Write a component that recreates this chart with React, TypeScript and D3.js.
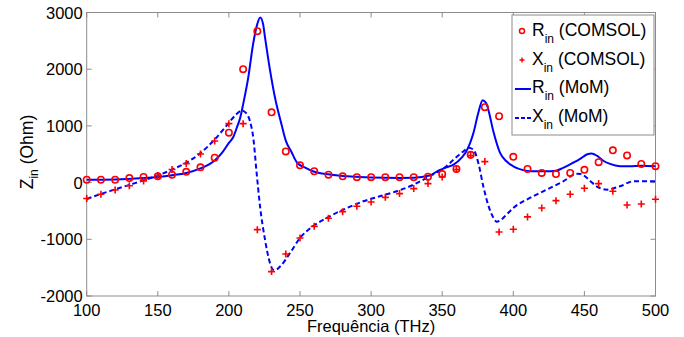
import React from "react";
import * as d3 from "d3";

const freqComsol = [100,110,120,130,140,150,160,170,180,190,200,210,220,230,240,250,260,270,280,290,300,310,320,330,340,350,360,370,380,390,400,410,420,430,440,450,460,470,480,490,500];
const rComsol = [50,50,50,80,100,110,140,190,270,440,880,2000,2670,1240,550,305,200,140,110,95,95,95,95,95,105,150,240,490,1330,1170,455,240,170,150,170,225,360,570,480,330,290];
const xComsol = [-280,-205,-130,-55,30,125,230,335,505,735,1040,1040,-830,-1570,-1260,-977,-772,-630,-512,-418,-341,-260,-194,-106,-18,100,230,477,370,-870,-822,-605,-447,-318,-206,-100,-18,-153,-395,-377,-294];

const rMoM: [number, number][] = [[100,50],[120,55],[140,80],[150,100],[160,130],[170,170],[180,250],[190,390],[195,520],[200,700],[203,800],[206,1000],[208,1150],[210,1380],[213.6,1850],[217,2440],[220,2800],[222,2910],[224,2800],[225.4,2560],[229,1970],[232.4,1500],[237,1025],[240,740],[244,540],[248,350],[254,260],[259,200],[271,141],[283,111],[300,88],[320,83],[330,85],[341,124],[348,220],[353,270],[358,318],[364,450],[367,553],[372,878],[375.4,1231],[378.5,1454],[381,1400],[382.4,1290],[386,900],[390.7,525],[395,380],[400,288],[407,220],[412,200],[423,200],[430,210],[435,260],[442,350],[447,420],[452,500],[455,515],[459,470],[463,390],[468,330],[475,290],[482,288],[490,298],[500,288]];
const xMoM: [number, number][] = [[100,-290],[110,-200],[120,-120],[130,-40],[140,40],[150,125],[160,230],[170,350],[180,520],[190,760],[200,1055],[205,1200],[209,1272],[212,1230],[214.8,1083],[217.2,780],[219.5,171],[221.9,-419],[225.4,-1007],[228.9,-1420],[231.2,-1537],[233.5,-1530],[236,-1479],[243,-1242],[250,-977],[259,-772],[271,-595],[283,-447],[294.5,-330],[306,-242],[318,-153],[330,-35],[341,111],[353,288],[358,406],[365,553],[368.4,613],[371.9,583],[375.4,348],[378.9,-65],[382.4,-400],[386,-620],[388.3,-690],[391,-665],[395,-570],[400,-447],[411.7,-270],[423.4,-124],[435.2,23],[444.5,154],[448,150],[450.4,111],[454,30],[458.6,-65],[465.7,-124],[475,-65],[484.4,23],[490,25],[500,23]];

const xTicks = [100,150,200,250,300,350,400,450,500];
const yTicks = [-2000,-1000,0,1000,2000,3000];

const W = 684, H = 337;
const L = 86.7, R = 655.5, T = 12.5, B = 296;
const AX = "#8c8c8c";
const RED = "#ff0000";
const BLUE = "#0000ff";
const FONT = "Liberation Sans, Arial, Helvetica, sans-serif";

export default function App() {
  const x = d3.scaleLinear().domain([100, 500]).range([L, R]);
  const y = d3.scaleLinear().domain([-2000, 3000]).range([B, T]);
  const line = d3.line<[number, number]>().x(d => x(d[0])).y(d => y(d[1])).curve(d3.curveMonotoneX);
  const tl = 5;
  const plus = (cx: number, cy: number, k: string) => (
    <path key={k} d={`M${cx-3.5},${cy}H${cx+3.5}M${cx},${cy-3.5}V${cy+3.5}`} stroke={RED} strokeWidth={1.6} fill="none" />
  );
  const legRows = [
    { sym: "R", label: " (COMSOL)", kind: "o", yb: 35.5 },
    { sym: "X", label: " (COMSOL)", kind: "+", yb: 64.5 },
    { sym: "R", label: " (MoM)", kind: "-", yb: 93 },
    { sym: "X", label: " (MoM)", kind: "--", yb: 122 },
  ];
  return (
    <svg width={W} height={H} style={{ position: "absolute", left: 0, top: 0, background: "#fff" }} fontFamily={FONT}>
      <rect x={0} y={0} width={W} height={H} fill="#fff" />
      <rect x={L} y={T} width={R - L} height={B - T} fill="none" stroke={AX} strokeWidth={1} />
      {xTicks.map(t => (
        <g key={"xt" + t}>
          <line x1={x(t)} x2={x(t)} y1={B} y2={B - tl} stroke={AX} />
          <line x1={x(t)} x2={x(t)} y1={T} y2={T + tl} stroke={AX} />
          <text x={x(t)} y={B + 20} textAnchor="middle" fontSize={16.5} fill="#000">{t}</text>
        </g>
      ))}
      {yTicks.map(t => (
        <g key={"yt" + t}>
          <line x1={L} x2={L + tl} y1={y(t)} y2={y(t)} stroke={AX} />
          <line x1={R} x2={R - tl} y1={y(t)} y2={y(t)} stroke={AX} />
          <text x={L - 4} y={y(t) + 6} textAnchor="end" fontSize={16.5} fill="#000">{t}</text>
        </g>
      ))}
      <text x={(L + R) / 2} y={332} textAnchor="middle" fontSize={16.5} fill="#000">Frequência (THz)</text>
      <text transform={`translate(33,152) rotate(-90)`} textAnchor="middle" fontSize={17.5} fill="#000">
        Z<tspan fontSize={12} dy={5}>in</tspan><tspan dy={-5}> (Ohm)</tspan>
      </text>
      <path d={line(rMoM) || ""} fill="none" stroke={BLUE} strokeWidth={2} />
      <path d={line(xMoM) || ""} fill="none" stroke={BLUE} strokeWidth={2} strokeDasharray="5,3" />
      {freqComsol.map((f, i) => (
        <circle key={"c" + i} cx={x(f)} cy={y(rComsol[i])} r={3.2} fill="none" stroke={RED} strokeWidth={1.6} />
      ))}
      {freqComsol.map((f, i) => plus(x(f), y(xComsol[i]), "p" + i))}
      <rect x={512} y={15} width={142} height={120} fill="#fff" stroke={AX} strokeWidth={1} />
      {legRows.map((r, i) => (
        <g key={"lg" + i}>
          {r.kind === "o" && <circle cx={522} cy={r.yb - 4.5} r={2.5} fill="none" stroke={RED} strokeWidth={1.5} />}
          {r.kind === "+" && <path d={`M${519.5},${r.yb - 4.5}H${524.5}M${522},${r.yb - 7}V${r.yb - 2}`} stroke={RED} strokeWidth={1.4} />}
          {r.kind === "-" && <line x1={515} x2={531} y1={r.yb - 4} y2={r.yb - 4} stroke={BLUE} strokeWidth={2} />}
          {r.kind === "--" && <line x1={515} x2={531} y1={r.yb - 4} y2={r.yb - 4} stroke={BLUE} strokeWidth={2} strokeDasharray="4,2" />}
          <text x={532} y={r.yb} fontSize={17.5} fill="#000">
            {r.sym}<tspan fontSize={12} dy={7}>in</tspan><tspan dy={-7}>{r.label}</tspan>
          </text>
        </g>
      ))}
    </svg>
  );
}
